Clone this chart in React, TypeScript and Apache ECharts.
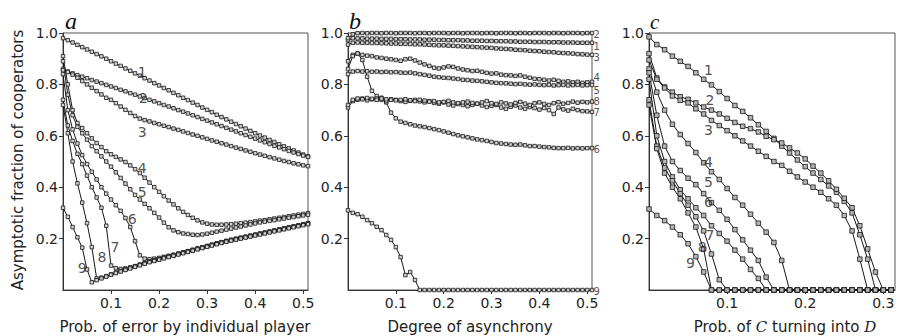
import React, { useEffect, useRef } from "react";
import * as echarts from "echarts";

// x sample positions
const xAB = [0,0.01,0.02,0.03,0.04,0.05,0.06,0.07,0.08,0.09,0.1,0.11,0.12,0.13,0.14,0.15,0.16,0.17,0.18,0.19,0.2,0.21,0.22,0.23,0.24,0.25,0.26,0.27,0.28,0.29,0.3,0.31,0.32,0.33,0.34,0.35,0.36,0.37,0.38,0.39,0.4,0.41,0.42,0.43,0.44,0.45,0.46,0.47,0.48,0.49,0.5,0.51];
const xC = [0,0.01,0.02,0.03,0.04,0.05,0.06,0.07,0.08,0.09,0.1,0.11,0.12,0.13,0.14,0.15,0.16,0.17,0.18,0.19,0.2,0.21,0.22,0.23,0.24,0.25,0.26,0.27,0.28,0.29,0.3,0.31];

// Panel a: prob. of error by individual player
const a1 = [0.98,0.972,0.963,0.954,0.945,0.936,0.927,0.918,0.909,0.9,0.89,0.881,0.872,0.862,0.853,0.843,0.834,0.824,0.815,0.805,0.796,0.786,0.777,0.767,0.758,0.748,0.739,0.729,0.72,0.71,0.701,0.692,0.682,0.673,0.664,0.655,0.646,0.637,0.628,0.619,0.61,0.601,0.593,0.584,0.576,0.567,0.559,0.551,0.543,0.535,0.527,0.52];
const a2 = [0.86,0.85,0.843,0.836,0.83,0.824,0.817,0.811,0.805,0.798,0.792,0.786,0.779,0.773,0.766,0.76,0.753,0.747,0.74,0.734,0.727,0.72,0.714,0.707,0.7,0.694,0.687,0.68,0.673,0.666,0.659,0.652,0.645,0.638,0.631,0.624,0.617,0.61,0.603,0.596,0.589,0.582,0.575,0.568,0.561,0.555,0.548,0.541,0.535,0.529,0.523,0.518];
const a3 = [0.855,0.848,0.838,0.826,0.813,0.8,0.787,0.774,0.761,0.748,0.74,0.727,0.714,0.701,0.689,0.677,0.667,0.661,0.656,0.65,0.645,0.639,0.634,0.628,0.623,0.617,0.611,0.605,0.6,0.594,0.588,0.582,0.577,0.571,0.566,0.56,0.554,0.549,0.543,0.538,0.532,0.527,0.522,0.517,0.512,0.507,0.502,0.498,0.493,0.489,0.485,0.482];
const a4 = [0.91,0.8,0.7,0.65,0.63,0.61,0.59,0.572,0.556,0.54,0.528,0.518,0.508,0.498,0.485,0.47,0.455,0.437,0.418,0.4,0.382,0.365,0.348,0.333,0.318,0.304,0.292,0.281,0.271,0.263,0.258,0.255,0.254,0.254,0.255,0.256,0.258,0.26,0.262,0.264,0.267,0.27,0.272,0.275,0.278,0.281,0.284,0.287,0.29,0.293,0.296,0.299];
const a5 = [0.89,0.76,0.68,0.635,0.61,0.585,0.56,0.54,0.52,0.5,0.48,0.458,0.436,0.414,0.392,0.37,0.352,0.335,0.318,0.3,0.282,0.262,0.244,0.232,0.225,0.22,0.218,0.215,0.214,0.216,0.219,0.223,0.227,0.231,0.235,0.239,0.243,0.247,0.251,0.255,0.259,0.263,0.266,0.269,0.272,0.275,0.278,0.281,0.284,0.287,0.29,0.293];
const a6 = [0.84,0.7,0.625,0.57,0.525,0.49,0.46,0.43,0.4,0.375,0.352,0.33,0.308,0.28,0.245,0.19,0.135,0.122,0.12,0.122,0.125,0.129,0.133,0.137,0.141,0.146,0.151,0.156,0.161,0.166,0.171,0.176,0.181,0.186,0.191,0.195,0.199,0.203,0.207,0.211,0.215,0.219,0.223,0.227,0.231,0.235,0.239,0.243,0.247,0.251,0.255,0.26];
const a7 = [0.74,0.64,0.58,0.53,0.49,0.445,0.4,0.36,0.32,0.25,0.095,0.085,0.082,0.084,0.088,0.093,0.099,0.105,0.111,0.116,0.121,0.126,0.131,0.136,0.141,0.146,0.151,0.156,0.161,0.166,0.171,0.176,0.181,0.186,0.19,0.195,0.199,0.203,0.207,0.211,0.215,0.219,0.223,0.227,0.231,0.235,0.239,0.243,0.247,0.251,0.255,0.259];
const a8 = [0.72,0.61,0.5,0.415,0.34,0.26,0.167,0.045,0.048,0.054,0.061,0.068,0.074,0.08,0.086,0.092,0.098,0.104,0.11,0.115,0.12,0.125,0.13,0.135,0.14,0.145,0.15,0.155,0.16,0.165,0.17,0.175,0.18,0.185,0.19,0.194,0.198,0.202,0.206,0.21,0.214,0.218,0.222,0.226,0.23,0.234,0.238,0.242,0.246,0.25,0.254,0.258];
const a9 = [0.32,0.285,0.245,0.205,0.165,0.08,0.03,0.038,0.045,0.052,0.059,0.066,0.072,0.078,0.084,0.09,0.096,0.102,0.108,0.113,0.118,0.123,0.128,0.133,0.138,0.143,0.148,0.153,0.158,0.163,0.168,0.173,0.178,0.183,0.188,0.192,0.196,0.2,0.204,0.208,0.212,0.216,0.22,0.224,0.228,0.232,0.236,0.24,0.244,0.248,0.252,0.256];

// Panel b: degree of asynchrony
const b1 = [0.972,0.98,0.979,0.979,0.978,0.978,0.978,0.977,0.977,0.977,0.976,0.976,0.976,0.975,0.975,0.975,0.974,0.974,0.974,0.973,0.973,0.972,0.972,0.972,0.971,0.971,0.97,0.97,0.97,0.969,0.969,0.968,0.968,0.968,0.967,0.967,0.966,0.966,0.966,0.965,0.965,0.965,0.964,0.964,0.964,0.963,0.963,0.963,0.962,0.962,0.962,0.962];
const b2 = [0.98,0.995,0.999,1,0.999,1,1,0.999,1,1,0.999,1,1,1,0.999,1,1,0.999,1,1,1,0.999,1,1,0.999,1,1,1,0.999,1,1,0.999,1,1,1,0.999,1,1,0.999,1,1,1,0.999,1,1,0.999,1,1,1,0.999,1,1];
const b3 = [0.955,0.962,0.963,0.962,0.962,0.961,0.961,0.96,0.96,0.959,0.959,0.958,0.958,0.957,0.956,0.956,0.955,0.954,0.953,0.952,0.952,0.951,0.95,0.949,0.948,0.947,0.946,0.945,0.944,0.943,0.942,0.94,0.939,0.938,0.937,0.935,0.934,0.933,0.931,0.93,0.929,0.927,0.926,0.925,0.923,0.922,0.921,0.92,0.918,0.917,0.916,0.915];
const b4 = [0.89,0.915,0.92,0.915,0.912,0.91,0.905,0.903,0.9,0.898,0.895,0.892,0.898,0.9,0.893,0.885,0.878,0.872,0.865,0.862,0.866,0.87,0.868,0.862,0.858,0.855,0.852,0.853,0.849,0.845,0.842,0.843,0.838,0.836,0.835,0.833,0.835,0.83,0.826,0.822,0.82,0.818,0.815,0.818,0.814,0.81,0.812,0.808,0.81,0.806,0.808,0.81];
const b5 = [0.84,0.85,0.852,0.85,0.851,0.849,0.85,0.848,0.849,0.847,0.848,0.846,0.845,0.846,0.843,0.84,0.837,0.834,0.83,0.828,0.826,0.825,0.823,0.821,0.818,0.817,0.815,0.814,0.812,0.81,0.808,0.806,0.805,0.804,0.803,0.801,0.802,0.8,0.799,0.8,0.798,0.797,0.798,0.796,0.797,0.798,0.796,0.797,0.798,0.796,0.797,0.798];
const b6 = [0.86,0.91,0.92,0.895,0.83,0.775,0.755,0.748,0.73,0.69,0.668,0.655,0.65,0.645,0.64,0.637,0.634,0.63,0.626,0.622,0.617,0.612,0.607,0.602,0.598,0.594,0.59,0.586,0.583,0.58,0.576,0.572,0.57,0.568,0.566,0.565,0.566,0.563,0.56,0.56,0.558,0.556,0.555,0.553,0.552,0.552,0.553,0.551,0.552,0.551,0.552,0.552];
const b7 = [0.71,0.735,0.74,0.745,0.738,0.742,0.745,0.74,0.735,0.742,0.74,0.735,0.732,0.736,0.74,0.734,0.73,0.735,0.728,0.725,0.73,0.722,0.718,0.724,0.72,0.715,0.72,0.725,0.718,0.712,0.717,0.72,0.71,0.705,0.713,0.718,0.71,0.705,0.712,0.708,0.702,0.708,0.7,0.685,0.71,0.703,0.698,0.705,0.7,0.696,0.695,0.693];
const b8 = [0.72,0.74,0.745,0.742,0.747,0.744,0.74,0.745,0.742,0.74,0.738,0.74,0.742,0.738,0.735,0.74,0.737,0.733,0.735,0.73,0.732,0.736,0.73,0.727,0.73,0.733,0.728,0.725,0.73,0.735,0.727,0.724,0.73,0.726,0.722,0.728,0.732,0.725,0.72,0.727,0.73,0.724,0.72,0.727,0.731,0.725,0.728,0.733,0.729,0.732,0.73,0.733];
const b9 = [0.31,0.3,0.295,0.285,0.272,0.26,0.246,0.233,0.214,0.195,0.167,0.128,0.058,0.07,0.039,0,0,0,0,0,0,0,0,0,0,0,0,0,0,0,0,0,0,0,0,0,0,0,0,0,0,0,0,0,0,0,0,0,0,0,0,0];

// Panel c: prob. of C turning into D
const c1 = [0.985,0.955,0.935,0.91,0.89,0.87,0.845,0.82,0.798,0.772,0.745,0.718,0.695,0.67,0.643,0.617,0.59,0.56,0.533,0.506,0.48,0.455,0.43,0.405,0.38,0.345,0.3,0.215,0.12,0,0,0];
const c2 = [0.92,0.825,0.79,0.77,0.752,0.742,0.728,0.712,0.7,0.685,0.668,0.652,0.637,0.628,0.615,0.598,0.585,0.572,0.553,0.533,0.51,0.482,0.455,0.425,0.392,0.357,0.32,0.25,0.16,0.07,0,0];
const c3 = [0.895,0.82,0.786,0.755,0.738,0.728,0.705,0.685,0.66,0.64,0.62,0.6,0.58,0.56,0.54,0.52,0.5,0.485,0.462,0.44,0.42,0.4,0.38,0.355,0.33,0.29,0.23,0.12,0,0,0,0];
const c4 = [0.86,0.77,0.7,0.645,0.605,0.57,0.535,0.495,0.46,0.43,0.395,0.36,0.33,0.295,0.26,0.225,0.185,0.115,0,0,0,0,0,0,0,0,0,0,0,0,0,0];
const c5 = [0.845,0.68,0.56,0.5,0.465,0.435,0.41,0.375,0.34,0.31,0.275,0.235,0.195,0.155,0.115,0.05,0,0,0,0,0,0,0,0,0,0,0,0,0,0,0,0];
const c6 = [0.82,0.6,0.5,0.44,0.39,0.355,0.32,0.29,0.25,0.22,0.19,0.155,0.12,0.08,0.045,0,0,0,0,0,0,0,0,0,0,0,0,0,0,0,0,0];
const c7 = [0.74,0.56,0.475,0.425,0.375,0.33,0.285,0.23,0.14,0.04,0,0,0,0,0,0,0,0,0,0,0,0,0,0,0,0,0,0,0,0,0,0];
const c8 = [0.72,0.55,0.455,0.4,0.355,0.3,0.245,0.16,0,0,0,0,0,0,0,0,0,0,0,0,0,0,0,0,0,0,0,0,0,0,0,0];
const c9 = [0.315,0.29,0.27,0.245,0.215,0.18,0.13,0.07,0,0,0,0,0,0,0,0,0,0,0,0,0,0,0,0,0,0,0,0,0,0,0,0];

// curve number labels [x, y, text]
const labelsA: [number, number, string][] = [[0.165,0.85,"1"],[0.167,0.748,"2"],[0.165,0.615,"3"],[0.165,0.475,"4"],[0.165,0.381,"5"],[0.144,0.276,"6"],[0.108,0.167,"7"],[0.081,0.128,"8"],[0.04,0.086,"9"]];
const labelsB: [number, number, string][] = [[0.52,0.996,"2"],[0.52,0.949,"1"],[0.52,0.903,"3"],[0.52,0.825,"4"],[0.52,0.778,"5"],[0.52,0.735,"8"],[0.52,0.689,"7"],[0.52,0.545,"6"],[0.52,-0.004,"9"]];
const labelsC: [number, number, string][] = [[0.076,0.856,"1"],[0.078,0.739,"2"],[0.076,0.623,"3"],[0.076,0.498,"4"],[0.076,0.42,"5"],[0.076,0.342,"6"],[0.078,0.214,"7"],[0.068,0.167,"8"],[0.053,0.105,"9"]];

const yTicks = [0.2, 0.4, 0.6, 0.8, 1.0];
const xTitles = ["Prob. of error by individual player", "Degree of asynchrony", "Prob. of {i|C} turning into {i|D}"];
const panelLetters = ["a", "b", "c"];
const yTitle = "Asymptotic fraction of cooperators";

const FONT = "DejaVu Sans";

export default function App() {
  const ref = useRef<HTMLDivElement>(null);
  useEffect(() => {
    if (!ref.current) return;
    const chart = echarts.init(ref.current, null, { renderer: "svg" });
    const grids = [
      { left: 63, top: 33, width: 245, height: 257 },
      { left: 348, top: 33, width: 244, height: 257 },
      { left: 649, top: 33, width: 246, height: 257 },
    ];
    const xMax = [0.51, 0.51, 0.315];
    const line = (xs: number[], ys: number[], gi: number, size: number, fill: string) => ({
      type: "line",
      xAxisIndex: gi,
      yAxisIndex: gi,
      data: ys.map((y, i) => [xs[i], y]),
      symbol: "rect",
      symbolSize: size,
      showSymbol: true,
      showAllSymbol: true,
      clip: false,
      lineStyle: { color: "#161616", width: 1 },
      itemStyle: { color: fill, borderColor: "#161616", borderWidth: 0.8 },
      silent: true,
      z: 3,
    });
    const labelSeries = (labels: [number, number, string][], gi: number, fs: number) => ({
      type: "scatter",
      xAxisIndex: gi,
      yAxisIndex: gi,
      data: labels.map((l) => [l[0], l[1], l[2]]),
      symbolSize: 1,
      itemStyle: { color: "rgba(0,0,0,0)" },
      clip: false,
      silent: true,
      z: 6,
      label: {
        show: true,
        position: "inside",
        formatter: (p: any) => p.value[2],
        fontFamily: FONT,
        fontSize: fs,
        lineHeight: fs,
        color: "#222",
      },
    });
    const series: any[] = [];
    [a1, a2, a3, a4, a5, a6, a7, a8, a9].forEach((s) => series.push(line(xAB, s, 0, 3.5, "#d0d0d0")));
    [b1, b2, b3, b4, b5, b6, b7, b8, b9].forEach((s) => series.push(line(xAB, s, 1, 3.5, "#d0d0d0")));
    [c1, c2, c3, c4, c5, c6, c7, c8, c9].forEach((s) => series.push(line(xC, s, 2, 4.5, "#b5b5b5")));
    series.push(labelSeries(labelsA, 0, 14));
    series.push(labelSeries(labelsB, 1, 10));
    series.push(labelSeries(labelsC, 2, 14));

    const fmtX = (v: number) => {
      const k = Math.round(v * 10);
      return k > 0 && Math.abs(v * 10 - k) < 1e-6 ? v.toFixed(1) : "";
    };
    const fmtY = (v: number) => (yTicks.some((t) => Math.abs(t - v) < 1e-6) ? v.toFixed(1) : "");

    const option: any = {
      animation: false,
      backgroundColor: "#ffffff",
      grid: grids.map((g) => ({ ...g, show: true, borderColor: "#555", borderWidth: 1, backgroundColor: "transparent", containLabel: false })),
      xAxis: grids.map((_, i) => ({
        gridIndex: i,
        type: "value",
        min: 0,
        max: xMax[i],
        interval: 0.1,
        axisLine: { show: true, onZero: false, lineStyle: { color: "#333", width: 1 } },
        axisTick: { show: true, length: 4, lineStyle: { color: "#333" } },
        axisLabel: { formatter: fmtX, fontFamily: FONT, fontSize: 14, color: "#222", margin: 6, showMaxLabel: false, showMinLabel: false },
        splitLine: { show: false },
      })),
      yAxis: grids.map((_, i) => ({
        gridIndex: i,
        type: "value",
        min: 0,
        max: 1,
        interval: 0.2,
        axisLine: { show: true, onZero: false, lineStyle: { color: "#333", width: 1 } },
        axisTick: { show: true, length: 4, lineStyle: { color: "#333" } },
        axisLabel: { formatter: fmtY, fontFamily: FONT, fontSize: 14, color: "#222", margin: 5, showMinLabel: false },
        splitLine: { show: false },
      })),
      graphic: [
        { type: "text", left: 65, top: 9, style: { text: panelLetters[0], font: "italic 24px 'Liberation Serif'", fill: "#111" } },
        { type: "text", left: 349, top: 9, style: { text: panelLetters[1], font: "italic 24px 'Liberation Serif'", fill: "#111" } },
        { type: "text", left: 650, top: 11, style: { text: panelLetters[2], font: "italic 21px 'Liberation Serif'", fill: "#111" } },
        {
          type: "text", x: 18, y: 160, rotation: Math.PI / 2,
          style: { text: yTitle, font: `15px '${FONT}'`, fill: "#222", align: "center", verticalAlign: "middle" },
        },
        { type: "text", x: 185, y: 327, style: { text: xTitles[0], font: `15px '${FONT}'`, fill: "#222", align: "center", verticalAlign: "middle" } },
        { type: "text", x: 470, y: 327, style: { text: xTitles[1], font: `15px '${FONT}'`, fill: "#222", align: "center", verticalAlign: "middle" } },
        {
          type: "text", x: 785, y: 327,
          style: {
            text: xTitles[2], font: `15px '${FONT}'`, fill: "#222", align: "center", verticalAlign: "middle",
            rich: { i: { fontStyle: "italic", fontFamily: "DejaVu Serif", fontSize: 15, fill: "#222" } },
          },
        },
      ],
      series,
    };
    chart.setOption(option);
    return () => chart.dispose();
  }, []);
  return <div ref={ref} style={{ position: "fixed", left: 0, top: 0, width: 899, height: 336, background: "#fff" }} />;
}
